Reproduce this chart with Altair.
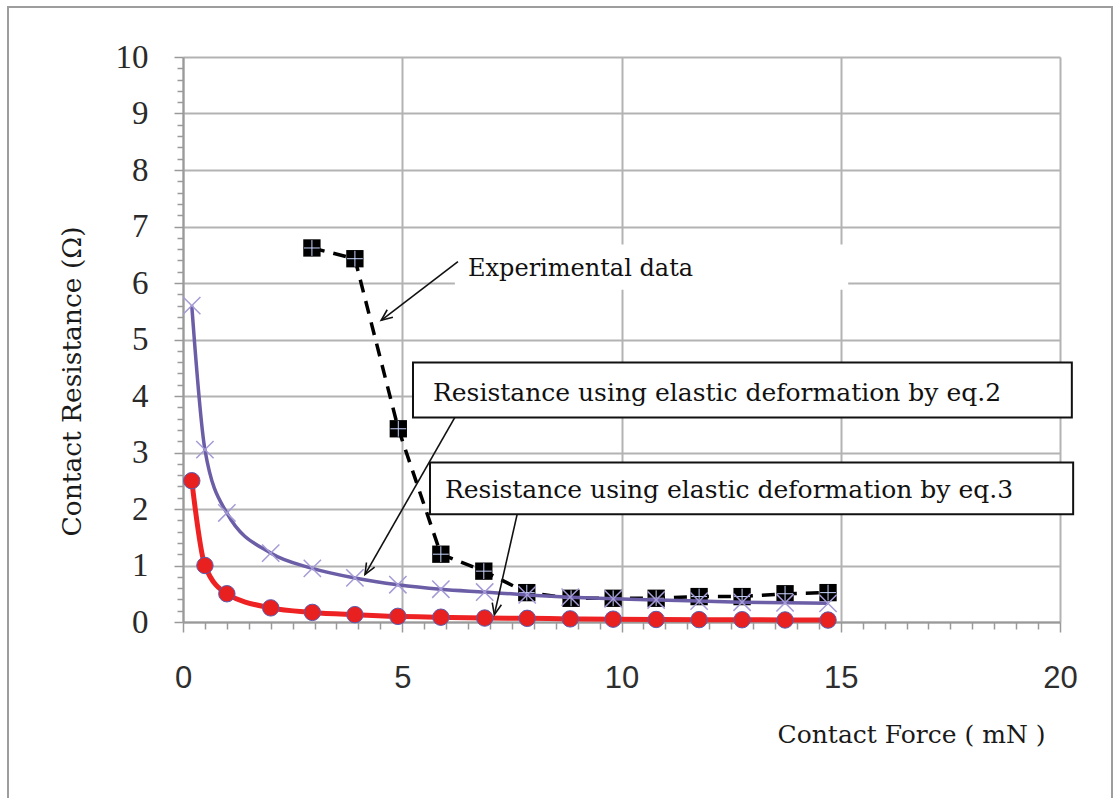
import math
import altair as alt
import pandas as pd

# ---- data -------------------------------------------------------------
# contact force (mN) used for both calculated curves
force_calc = [0.2, 0.5, 1.0, 2.0, 2.95, 3.92, 4.9, 5.88, 6.88, 7.85, 8.83, 9.81,
              10.79, 11.77, 12.75, 13.73, 14.71]
# resistance from elastic deformation, eq.2 (ohm)
res_eq2 = [5.6, 3.05, 1.93, 1.22, 0.95, 0.78, 0.66, 0.58, 0.53, 0.48, 0.44, 0.41,
           0.39, 0.37, 0.35, 0.34, 0.33]
# resistance from elastic deformation, eq.3 (ohm)
res_eq3 = [2.5, 1.0, 0.5, 0.25, 0.17, 0.13, 0.1, 0.085, 0.07, 0.065, 0.055, 0.05,
           0.045, 0.042, 0.04, 0.036, 0.034]

# measured values
force_exp = [2.94, 3.92, 4.91, 5.88, 6.86, 7.84, 8.85, 9.81, 10.79, 11.77, 12.75,
             13.73, 14.71]
res_exp = [6.62, 6.43, 3.42, 1.2, 0.9, 0.52, 0.42, 0.42, 0.42, 0.45, 0.45, 0.5, 0.52]

# annotation callouts (data units)
note_text = ["Experimental data",
             "Resistance using elastic deformation by eq.2",
             "Resistance using elastic deformation by eq.3"]
note_x = [6.5, 5.70, 5.975]
note_y = [6.24, 4.06, 2.33]
note_size = [24, 25, 25]

# boxes around the two equation labels
box_x = [5.245, 5.633]
box_x2 = [20.27, 20.30]
box_y = [4.593, 2.825]
box_y2 = [3.62, 1.905]

# plain white backing behind the "Experimental data" label
patch_x, patch_x2, patch_y, patch_y2 = [6.2], [15.17], [6.68], [5.88]

# arrows: start -> tip
arrow_x = [6.27, 6.2, 7.62]
arrow_y = [6.38, 3.62, 1.905]
arrow_tx = [4.52, 4.15, 7.1]
arrow_ty = [5.34, 0.84, 0.13]

y_ticks = [round(i * 0.2, 1) for i in range(51)]
x_ticks = [i * 0.5 for i in range(41)]

# ---- layout -----------------------------------------------------------
W, H = 877, 565
PAD = {"left": 183, "top": 57, "right": 53, "bottom": 176}
px_x = W / 20.0
px_y = H / 10.0

# arrowhead rotation, taken from each arrow's on-screen direction
arrow_angle = []
for sx, sy, tx, ty in zip(arrow_x, arrow_y, arrow_tx, arrow_ty):
    dx = (tx - sx) * px_x
    dy = -(ty - sy) * px_y
    arrow_angle.append(math.degrees(math.atan2(dx, -dy)) % 360)

calc_df = pd.DataFrame({"x": force_calc, "eq2": res_eq2, "eq3": res_eq3})
exp_df = pd.DataFrame({"x": force_exp, "y": res_exp})
note_df = pd.DataFrame({"x": note_x, "y": note_y, "t": note_text, "s": note_size})
box_df = pd.DataFrame({"x": box_x, "x2": box_x2, "y": box_y, "y2": box_y2})
patch_df = pd.DataFrame({"x": patch_x, "x2": patch_x2, "y": patch_y, "y2": patch_y2})
arrow_df = pd.DataFrame({"x": arrow_x, "y": arrow_y, "x2": arrow_tx, "y2": arrow_ty,
                         "a": arrow_angle})

GRID = "#b3b3b3"
AXIS = "#9a9a9a"

x_scale = alt.Scale(domain=[0, 20], nice=False, zero=False)
y_scale = alt.Scale(domain=[0, 10], nice=False, zero=False)

x_axis = alt.Axis(
    values=x_ticks,
    labelExpr="datum.value % 5 === 0 ? format(datum.value, 'd') : ''",
    labelOverlap=False, labelFlush=False, labelBound=False,
    labelFont="Liberation Sans", labelFontSize=31, labelColor="#2e2e2e",
    labelPadding=31, labelBaseline="top",
    grid=True, gridColor=GRID, gridWidth=2,
    gridOpacity={"condition": {"test": "datum.value % 5 === 0", "value": 1}, "value": 0},
    tickColor=AXIS, tickWidth=1.5,
    tickSize={"condition": {"test": "datum.value % 5 === 0", "value": 10}, "value": 7},
    domainColor=AXIS, domainWidth=2,
    title="Contact Force ( mN )", titleFont="DejaVu Serif", titleFontSize=25,
    titleFontWeight="normal", titleColor="#1a1a1a",
    titleAlign="right", titleBaseline="alphabetic", titleX=862, titleY=120,
)
y_axis = alt.Axis(
    values=y_ticks,
    labelExpr="datum.value % 1 === 0 ? format(datum.value, 'd') : ''",
    labelOverlap=False, labelBound=False, labelFlush=False,
    labelFont="Liberation Serif", labelFontSize=33, labelColor="#2a2a2a",
    labelPadding=26,
    grid=True, gridColor=GRID, gridWidth=2,
    gridOpacity={"condition": {"test": "datum.value % 1 === 0", "value": 1}, "value": 0},
    tickColor=AXIS, tickWidth=1.5,
    tickSize={"condition": {"test": "datum.value % 1 === 0", "value": 9}, "value": 6},
    domainColor=AXIS, domainWidth=2,
    title="Contact Resistance (Ω)", titleFont="DejaVu Serif", titleFontSize=26.5,
    titleFontWeight="normal", titleColor="#1a1a1a", titleAngle=270,
    titleAlign="center", titleBaseline="alphabetic", titleX=-103, titleY=324,
)


def X(field="x"):
    return alt.X(field, type="quantitative", scale=x_scale, axis=x_axis)


def Y(field="y"):
    return alt.Y(field, type="quantitative", scale=y_scale, axis=y_axis)


# outer frame around the whole figure
frame = alt.Chart(alt.Data(values=[{}])).mark_rect(
    fillOpacity=0, stroke="#9d9d9d", strokeWidth=2
).encode(
    x=alt.value(8 - PAD["left"]), x2=alt.value(1112 - PAD["left"]),
    y=alt.value(7 - PAD["top"]), y2=alt.value(820 - PAD["top"]),
)

patch = alt.Chart(patch_df).mark_rect(fill="white", stroke=None).encode(
    x=X(), x2="x2", y=Y(), y2="y2"
)

boxes = alt.Chart(box_df).mark_rect(fill="white", stroke="#111111", strokeWidth=2).encode(
    x=X(), x2="x2", y=Y(), y2="y2"
)

exp_line = alt.Chart(exp_df).mark_line(
    color="black", strokeWidth=3.5, strokeDash=[13, 9]
).encode(x=X(), y=Y())

exp_pts = alt.Chart(exp_df).mark_point(
    shape="square", filled=True, color="black", size=300, opacity=1
).encode(x=X(), y=Y())

exp_cross = alt.Chart(exp_df).mark_point(
    shape="M-1,0L1,0M0,-1L0,1", filled=False, stroke="#c9d6ff", strokeWidth=1,
    size=250, opacity=1
).encode(x=X(), y=Y())

eq2_line = alt.Chart(calc_df).mark_line(
    color="#6b5da6", strokeWidth=3.5, interpolate="monotone"
).encode(x=X(), y=Y("eq2"))

eq2_pts = alt.Chart(calc_df).mark_point(
    shape="M-1,-1L1,1M1,-1L-1,1", filled=False, stroke="#a59bd6", strokeWidth=1.5,
    size=300, opacity=1
).encode(x=X(), y=Y("eq2"))

eq3_line = alt.Chart(calc_df).mark_line(
    color="#ee2222", strokeWidth=5, interpolate="monotone"
).encode(x=X(), y=Y("eq3"))

eq3_pts = alt.Chart(calc_df).mark_point(
    shape="circle", filled=True, fill="#e82020", stroke="#5b5bb0", strokeWidth=1,
    size=270, opacity=1
).encode(x=X(), y=Y("eq3"))

arrows = alt.Chart(arrow_df).mark_rule(color="#111111", strokeWidth=1.6).encode(
    x=X(), y=Y(), x2="x2", y2="y2"
)

heads = alt.Chart(arrow_df).mark_point(
    shape="M-0.42,1L0,0L0.42,1", filled=False, stroke="#111111", strokeWidth=1.6,
    size=500, opacity=1
).encode(x=X("x2"), y=Y("y2"), angle=alt.Angle("a:Q", scale=None))

notes = alt.Chart(note_df).mark_text(
    align="left", baseline="middle", font="DejaVu Serif", color="#111111"
).encode(x=X(), y=Y(), text="t:N", size=alt.Size("s:Q", scale=None))

chart = alt.layer(
    frame, patch, boxes, exp_line, exp_pts, exp_cross, eq2_line, eq2_pts,
    eq3_line, eq3_pts, arrows, heads, notes
).properties(
    width=W, height=H, autosize="none", padding=PAD, background="white"
).configure_view(stroke=None)

chart.save("out.html", embed_options={"renderer": "svg", "actions": False})
